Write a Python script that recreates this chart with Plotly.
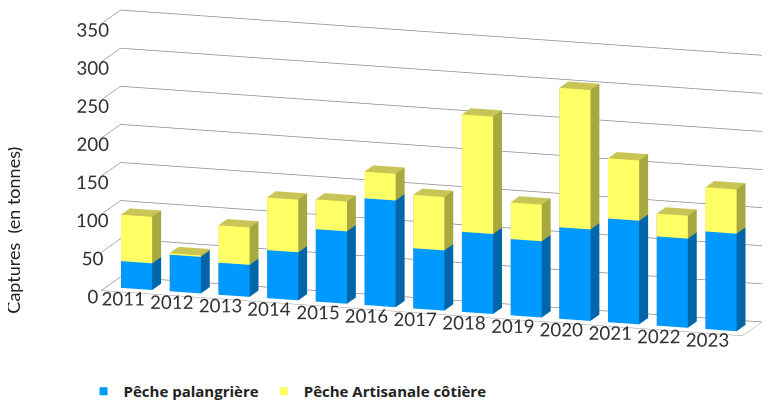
import plotly.graph_objects as go

years = ["2011", "2012", "2013", "2014", "2015", "2016", "2017",
         "2018", "2019", "2020", "2021", "2022", "2023"]
palangriere = [35, 48, 42, 63, 95, 140, 79, 105, 100, 120, 136, 117, 128]
artisanale = [61, 2, 49, 69, 39, 35, 70, 154, 48, 183, 79, 30, 58]
z_ticks = [0, 50, 100, 150, 200, 250, 300, 350]

FONT = "Lato"
HALF_W = 0.32
HALF_D = 0.32

# face colours: (front, side, top)
BLUE = ("#0099FF", "#0066A8", "#33AAFF")
YELLOW = ("#FFFF66", "#A8A840", "#C8C455")


def boxes(bases, heights, cols):
    xs, ys, zs, ii, jj, kk, fc = [], [], [], [], [], [], []
    front, side, top = cols
    for idx, (b, h) in enumerate(zip(bases, heights)):
        if h <= 0:
            continue
        x0, x1 = idx - HALF_W, idx + HALF_W
        y0, y1 = -HALF_D, HALF_D
        z0, z1 = b, b + h
        n = len(xs)
        verts = [(x0, y0, z0), (x1, y0, z0), (x1, y1, z0), (x0, y1, z0),
                 (x0, y0, z1), (x1, y0, z1), (x1, y1, z1), (x0, y1, z1)]
        for v in verts:
            xs.append(v[0]); ys.append(v[1]); zs.append(v[2])
        faces = [((0, 1, 2), side), ((0, 2, 3), side),
                 ((4, 5, 6), top), ((4, 6, 7), top),
                 ((0, 1, 5), front), ((0, 5, 4), front),
                 ((3, 2, 6), side), ((3, 6, 7), side),
                 ((0, 3, 7), side), ((0, 7, 4), side),
                 ((1, 2, 6), side), ((1, 6, 5), side)]
        for (a, bb, c), col in faces:
            ii.append(n + a); jj.append(n + bb); kk.append(n + c); fc.append(col)
    return xs, ys, zs, ii, jj, kk, fc


fig = go.Figure()
light = dict(ambient=1, diffuse=0, specular=0, roughness=1, fresnel=0)

xb, yb, zb, ib, jb, kb, fb = boxes([0] * len(years), palangriere, BLUE)
fig.add_trace(go.Mesh3d(x=xb, y=yb, z=zb, i=ib, j=jb, k=kb, facecolor=fb,
                        flatshading=True, lighting=light, hoverinfo="skip",
                        showlegend=False))
xy, yy, zy, iy, jy, ky, fy = boxes(palangriere, artisanale, YELLOW)
fig.add_trace(go.Mesh3d(x=xy, y=yy, z=zy, i=iy, j=jy, k=ky, facecolor=fy,
                        flatshading=True, lighting=light, hoverinfo="skip",
                        showlegend=False))

# legend entries
fig.add_trace(go.Scatter3d(x=[None], y=[None], z=[None], mode="markers",
                           marker=dict(symbol="square", size=8, color="#0099FF"),
                           name="Pêche palangrière"))
fig.add_trace(go.Scatter3d(x=[None], y=[None], z=[None], mode="markers",
                           marker=dict(symbol="square", size=8, color="#FFFF66"),
                           name="Pêche Artisanale côtière"))

cx, cz = -0.21, -0.15
rel = (0.48, -1.52, 0.365)

axis_common = dict(showbackground=False, showspikes=False, zeroline=False)
fig.update_layout(
    width=771, height=400,
    margin=dict(l=0, r=0, t=0, b=0),
    paper_bgcolor="white",
    font=dict(family=FONT, color="#333333"),
    showlegend=True,
    legend=dict(orientation="h", x=0.098, y=0.0, xanchor="left", yanchor="bottom",
                font=dict(size=15, family="Open Sans", weight="bold", color="#222222"),
                itemwidth=30),
    scene=dict(
        domain=dict(x=[0.0, 1.0], y=[0.05, 1.0]),
        aspectmode="manual",
        aspectratio=dict(x=3.54, y=0.34, z=1.44),
        camera=dict(eye=dict(x=cx + rel[0], y=rel[1], z=cz + rel[2]),
                    center=dict(x=cx, y=0, z=cz),
                    up=dict(x=0, y=0, z=1),
                    projection=dict(type="orthographic")),
        xaxis=dict(range=[-0.62, len(years) - 0.45], tickvals=list(range(len(years))),
                   ticktext=years, tickangle=0, showgrid=False, title=dict(text=""),
                   tickfont=dict(size=15, family=FONT, color="#333333"),
                   showline=True, linecolor="#999999", ticks="outside", ticklen=130,
                   tickcolor="rgba(0,0,0,0)", **axis_common),
        yaxis=dict(range=[-0.7, 0.7], showgrid=False, showticklabels=False,
                   title=dict(text=""), ticks="", showline=True, linecolor="#999999",
                   **axis_common),
        zaxis=dict(range=[0, 350], tickvals=z_ticks, showgrid=True, tickangle=0,
                   gridcolor="#8c8c8c", gridwidth=1.5, title=dict(text=""),
                   tickfont=dict(size=15, family=FONT, color="#333333"),
                   ticks="outside", ticklen=50, tickcolor="rgba(0,0,0,0)",
                   showline=False, **axis_common),
    ),
    annotations=[dict(text="Captures  (en tonnes)", textangle=-90, x=0.006, y=0.445,
                      xanchor="center", yanchor="middle",
                      xref="paper", yref="paper", showarrow=False,
                      font=dict(size=18, family=FONT, color="#222222"))],
)

fig.write_html("out.html")
